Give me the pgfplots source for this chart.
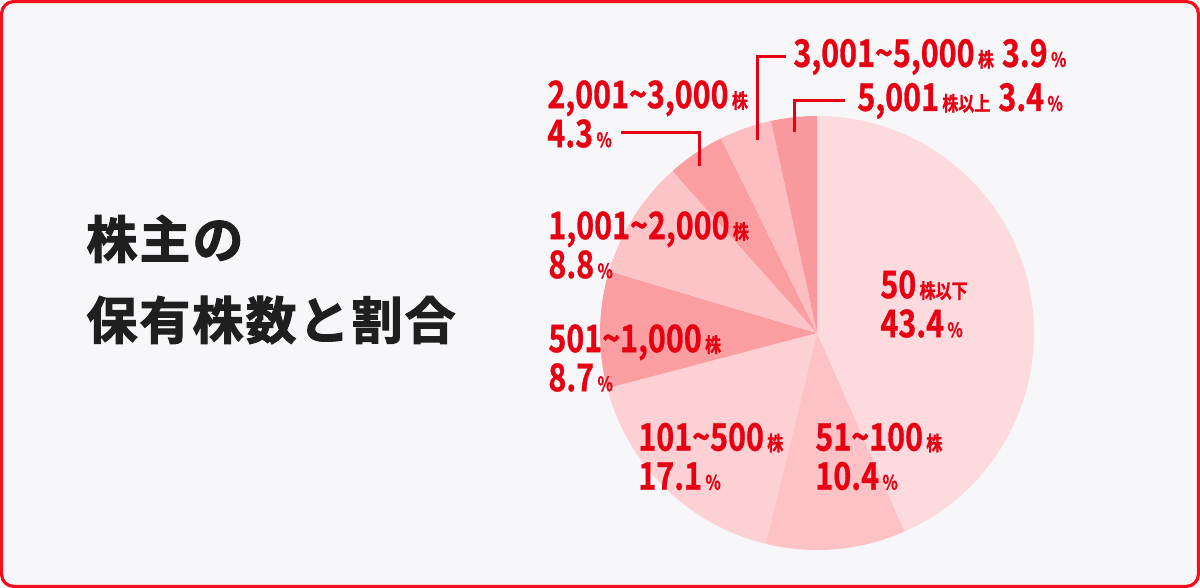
\documentclass[border=0pt]{standalone}
\usepackage{pgfplots}
\pgfplotsset{compat=1.18}
\usepackage{pgfplotstable}
\usepackage{fontspec}
\setmainfont{Noto Sans CJK JP}[BoldFont={Noto Sans CJK JP Bold}]
\newfontfamily\numf{Noto Sans CJK JP Bold}[FakeStretch=0.8, FakeBold=0.8]
\newfontfamily\ttlf{Noto Sans CJK JP Bold}[LetterSpace=4, FakeBold=2]

\definecolor{bg}{HTML}{F7F6F9}
\definecolor{frame}{HTML}{F50F1E}
\definecolor{txt}{HTML}{E60012}
\definecolor{s1}{HTML}{FDDADD}
\definecolor{s2}{HTML}{FCC2C5}
\definecolor{s3}{HTML}{FDD1D4}
\definecolor{s4}{HTML}{FA9EA2}
\definecolor{s5}{HTML}{FDC4C7}
\definecolor{s6}{HTML}{FA9EA2}
\definecolor{s7}{HTML}{FDBEC1}
\definecolor{s8}{HTML}{F9989D}

% share of shareholders by holding size, clockwise from 12 o'clock
\pgfplotstableread[col sep=comma]{
pct,col
43.4,s1
10.4,s2
17.1,s3
8.7,s4
8.8,s5
4.3,s6
3.9,s7
3.4,s8
}\shares

\newcommand\sm[1]{{\fontsize{10}{10}\selectfont\,#1}}
\newcommand\tl{\textasciitilde}

\begin{document}
\begin{tikzpicture}[
  lbl/.style={anchor=west, inner sep=0pt, align=left, text=txt,
    font=\numf\fontsize{19}{19.5}\selectfont},
  ttl/.style={anchor=west, inner sep=0pt, text=black!88,
    font=\ttlf\fontsize{25.5}{30}\selectfont},
]
\useasboundingbox (0,0) rectangle (600pt,294pt);
\fill[white] (0,0) rectangle (600pt,294pt);
\draw[frame, fill=bg, line width=1.6pt, rounded corners=6pt]
  (0.8pt,0.8pt) rectangle (599.2pt,293.2pt);
\begin{axis}[
  at={(0,0)}, anchor=south west,
  width=600pt, height=294pt, scale only axis,
  xmin=0, xmax=1200, ymin=0, ymax=588,
  hide axis, clip=false,
]
\def\ang{90}
\pgfplotsforeachungrouped \i in {0,...,7}{
  \pgfplotstablegetelem{\i}{pct}\of\shares \let\p\pgfplotsretval
  \pgfplotstablegetelem{\i}{col}\of\shares \let\c\pgfplotsretval
  \pgfmathsetmacro\angend{\ang-3.6*\p}
  \edef\temp{\noexpand\fill[\c] (axis cs:817,255) -- ([shift={(\ang:108.5pt)}]axis cs:817,255)
    arc[start angle=\ang, end angle=\angend, radius=108.5pt] -- cycle;}
  \temp
  \let\ang\angend
}

% leader lines
\draw[txt, line width=1.5pt] (axis cs:621,455) -- (axis cs:699,455) -- (axis cs:699,422);
\draw[txt, line width=1.5pt] (axis cs:786,531) -- (axis cs:757,531) -- (axis cs:757,448);
\draw[txt, line width=1.5pt] (axis cs:845,487) -- (axis cs:794,487) -- (axis cs:794,456);

% labels
\node[lbl] at (axis cs:880,284) {50\sm{株以下}\\43.4\sm{\%}};
\node[lbl] at (axis cs:815,131.5) {51\tl100\sm{株}\\10.4\sm{\%}};
\node[lbl] at (axis cs:638,131.5) {101\tl500\sm{株}\\17.1\sm{\%}};
\node[lbl] at (axis cs:548,230) {501\tl1,000\sm{株}\\8.7\sm{\%}};
\node[lbl] at (axis cs:548,343) {1,001\tl2,000\sm{株}\\8.8\sm{\%}};
\node[lbl] at (axis cs:547,474) {2,001\tl3,000\sm{株}\\4.3\sm{\%}};
\node[lbl] at (axis cs:793,531) {3,001\tl5,000\sm{株}\hspace{4pt}3.9\sm{\%}};
\node[lbl] at (axis cs:857,487) {5,001\sm{株以上}\hspace{4pt}3.4\sm{\%}};

% title
\node[ttl] at (axis cs:86,349) {株主の};
\node[ttl] at (axis cs:86,268) {保有株数と割合};
\end{axis}
\end{tikzpicture}
\end{document}
